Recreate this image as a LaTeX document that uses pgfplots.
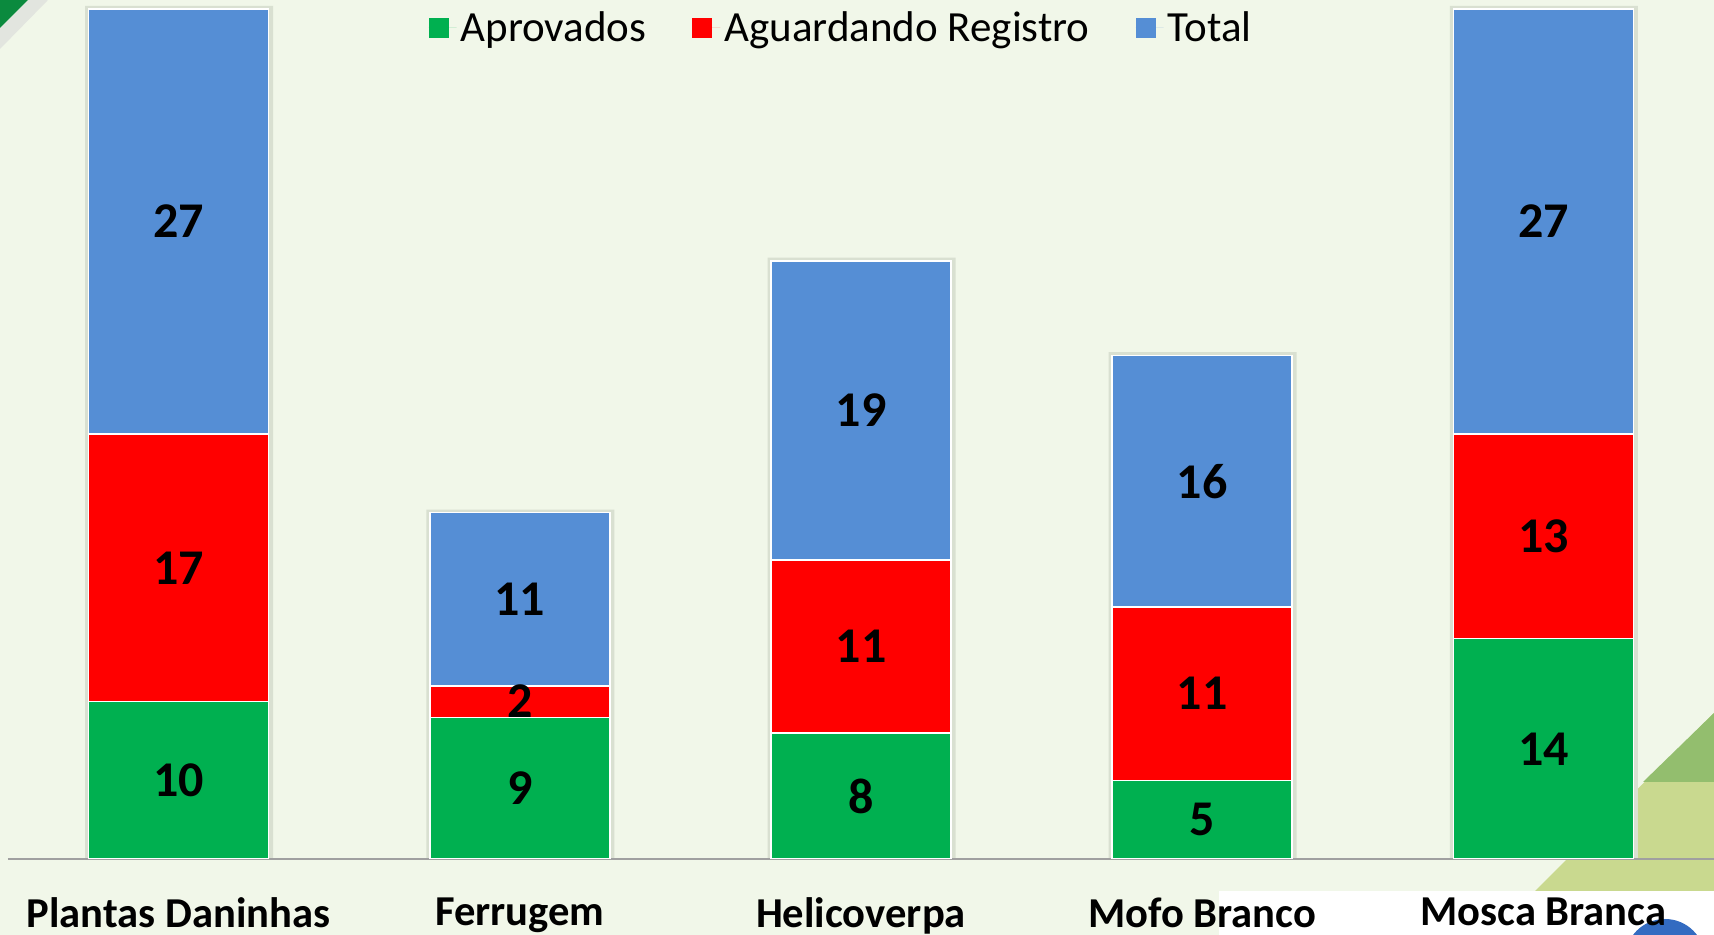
\documentclass[border=0pt]{standalone}
\usepackage{fontspec}
\setmainfont{Carlito}
\usepackage{pgfplots}
\usepackage{pgfplotstable}
\pgfplotsset{compat=1.18}
\definecolor{bg}{HTML}{F1F7E9}
\definecolor{cgreen}{HTML}{00B050}
\definecolor{cred}{HTML}{FF0000}
\definecolor{cblue}{HTML}{558ED5}
\definecolor{shadowc}{HTML}{D9E0D1}
\definecolor{axisgray}{HTML}{A0A0A0}
\definecolor{cornergreen}{HTML}{0B8A3E}
\definecolor{olive}{HTML}{C9D98F}
\definecolor{olivedark}{HTML}{93BE6E}
\pgfplotstableread{
x apr agu tot
0 10 17 27
1 9 2 11
2 8 11 19
3 5 11 16
4 14 13 27
}\datatable
\pgfplotstableread{
x sh
0 54.2
1 22.2
2 38.2
3 32.2
4 54.2
}\shadowtable
\begin{document}
\begin{tikzpicture}
\fill[bg] (-4pt,-38pt) rectangle (853pt,429.5pt);
% decorations
\fill[gray!30, opacity=0.6] (10pt,429.5pt) -- (20pt,429.5pt) -- (-4pt,405pt) -- (-4pt,415.5pt) -- cycle;
\fill[cornergreen] (-4pt,429.5pt) -- (10pt,429.5pt) -- (-4pt,415.5pt) -- cycle;
\fill[white] (605.5pt,-38pt) rectangle (853pt,-16pt);
\fill[olive] (763.5pt,-16pt) -- (853pt,-16pt) -- (853pt,73pt) -- cycle;
\fill[olivedark] (817.5pt,38.5pt) -- (853pt,38.5pt) -- (853pt,73pt) -- cycle;
\fill[blue!60!cyan!70!black, opacity=0.8] (828.5pt,-50pt) circle (20pt);
% shadow axis
\begin{axis}[at={(0,0)}, anchor=south west, scale only axis,
  width=853pt, height=429.5pt, xmin=-0.5, xmax=4.5, ymin=0, ymax=54.574,
  hide axis, ybar, bar width=94pt, bar shift=0.25pt]
\addplot[fill=shadowc, draw=none] table[x=x, y=sh] {\shadowtable};
\end{axis}
% main axis
\begin{axis}[at={(0,0)}, anchor=south west, scale only axis,
  width=853pt, height=429.5pt, xmin=-0.5, xmax=4.5, ymin=0, ymax=54.574,
  ybar stacked, bar width=90pt,
  axis x line=bottom, axis y line=none,
  x axis line style={-, draw=axisgray, line width=1pt},
  xtick={0,1,2,3,4},
  xticklabels={Plantas Daninhas, Ferrugem, Helicoverpa, Mofo Branco, Mosca Branca},
  xtick style={draw=none}, major tick length=0pt,
  ytick=\empty,
  xticklabel style={font=\bfseries\fontsize{21.3}{21.3}\selectfont, yshift=-16pt},
  every axis plot/.append style={draw=white, line width=0.75pt},
  point meta=explicit,
  /pgf/number format/assume math mode=true,
  nodes near coords={\pgfmathprintnumber{\pgfplotspointmeta}},
  every node near coord/.append style={anchor=center, text=black,
     font=\bfseries\fontsize{25}{25}\selectfont},
  legend style={at={(0.489,0.9674)}, anchor=center, draw=none, fill=none,
     legend columns=3, font=\fontsize{21.5}{21.5}\selectfont,
     /tikz/every even column/.append style={column sep=21pt}},
  legend image code/.code={\fill[#1, draw=none] (0pt,-5pt) rectangle (10pt,5pt); \path[draw=none] (0pt,0pt) -- (14pt,0pt);},
]
\addplot[fill=cgreen] table[x=x, y=apr, meta=apr] {\datatable};
\addplot[fill=cred] table[x=x, y=agu, meta=agu] {\datatable};
\addplot[fill=cblue] table[x=x, y=tot, meta=tot] {\datatable};
\legend{Aprovados, Aguardando Registro, Total}
\end{axis}
\pgfresetboundingbox
\path[use as bounding box] (-4pt,-38pt) rectangle (853pt,429.5pt);
\end{tikzpicture}
\end{document}
